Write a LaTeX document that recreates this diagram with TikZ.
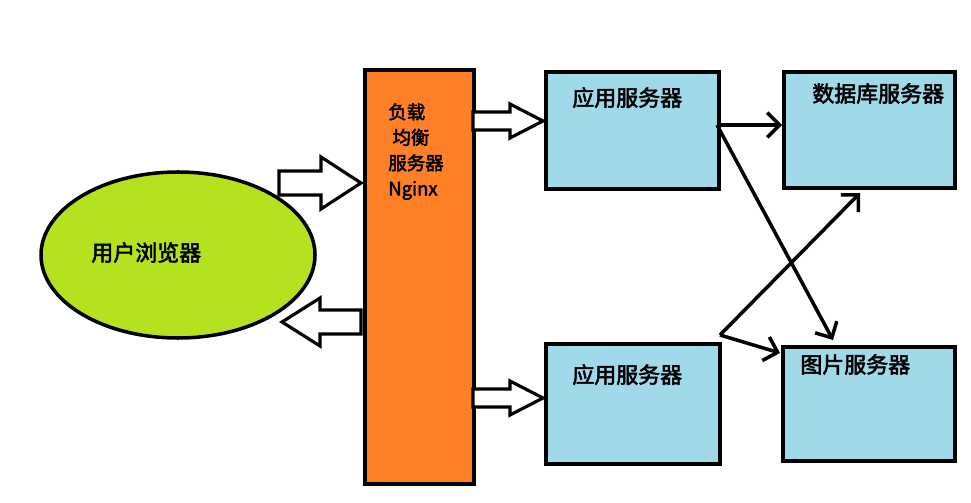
\documentclass[tikz,border=0pt]{standalone}
\usepackage{fontspec}
\newfontfamily\cjk[FakeBold=2.5]{Noto Sans CJK SC}
\usetikzlibrary{shapes.geometric,arrows.meta}
\definecolor{browsergreen}{HTML}{B5E21F}
\definecolor{lborange}{HTML}{FF8026}
\definecolor{serverblue}{HTML}{9FD9EA}
\tikzset{
  box/.style = {draw, line width=2pt, fill=serverblue, anchor=north west, inner sep=0pt},
  blockarrow/.style = {draw, line width=1.8pt, fill=white, line join=miter},
  link/.style = {line width=2pt, -{Straight Barb[length=7pt,width=14pt]}},
  lbl/.style = {font=\cjk\fontsize{12.5}{15}\selectfont, anchor=north west, inner sep=0pt}
}
\newlength{\unitlen}\setlength{\unitlen}{0.02cm}
% \blockarrow{tail x}{head start x}{tip x}{y}{shaft half}{head half}
\newcommand{\blockarrow}[6]{%
  \draw[blockarrow] (#1,#4-#5) -- (#2,#4-#5) -- (#2,#4-#6) -- (#3,#4)
    -- (#2,#4+#6) -- (#2,#4+#5) -- (#1,#4+#5) -- cycle;}
\begin{document}
\begin{tikzpicture}[x=0.02cm, y=-0.02cm]
\useasboundingbox (0,0) rectangle (971,503);
% browser
\node (browser) [draw, ellipse, line width=2pt, fill=browsergreen,
  minimum width=274\unitlen, minimum height=166\unitlen] at (178,255) {};
\node (browserlbl) [lbl] at (91,242) {用户浏览器};
% load balancer
\node (nginx) [box, fill=lborange, minimum width=109\unitlen, minimum height=414\unitlen] at (363,68) {};
\node (nginxlbl) [lbl, align=left, font=\cjk\fontsize{10.5}{14.5}\selectfont] at (388,103) {负载\\\ 均衡\\服务器\\Nginx};
% servers
\node (app1) [box, minimum width=173\unitlen, minimum height=117\unitlen] at (544,70) {};
\node [lbl] at (572,87) {应用服务器};
\node (app2) [box, minimum width=174\unitlen, minimum height=120\unitlen] at (544,342) {};
\node [lbl] at (572,364) {应用服务器};
\node (db) [box, minimum width=171\unitlen, minimum height=116\unitlen] at (782,70) {};
\node [lbl] at (812,83) {数据库服务器};
\node (img) [box, minimum width=172\unitlen, minimum height=114\unitlen] at (781,345) {};
\node [lbl] at (800,354) {图片服务器};
% block arrows
\blockarrow{279}{321}{361}{183}{12}{26}
\blockarrow{361}{320}{282}{322}{12}{24}
\blockarrow{473}{510}{543}{121}{9}{17}
\blockarrow{473}{510}{543}{398}{9}{17}
% links
\coordinate (a1) at (717,125);
\coordinate (a2) at (720,335);
\coordinate (dbin) at (860,193);
\coordinate (imgin) at (833,340);
\draw[link] (a1) -- (a1 -| db.west);
\draw[link] (a1) -- (imgin);
\draw[link] (a2) -- (dbin);
\draw[link] (a2) -- (780,353);
\end{tikzpicture}
\end{document}
